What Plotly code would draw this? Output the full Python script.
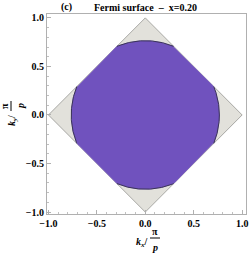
import numpy as np
import plotly.graph_objects as go

# Data
diamond_kx = [1.0, 0.0, -1.0, 0.0, 1.0]
diamond_ky = [0.0, 1.0, 0.0, -1.0, 0.0]
fermi_radius = 0.765
doping_label = "x=0.20"
panel_label = "(c)"
tick_vals = [-1.0, -0.5, 0.0, 0.5, 1.0]
tick_text = ["\u22121.0", "\u22120.5", "0.0", "0.5", "1.0"]

theta = np.linspace(0, 2 * np.pi, 721)
diam_r = 1.0 / (np.abs(np.cos(theta)) + np.abs(np.sin(theta)))
r = np.minimum(fermi_radius, diam_r)
px = r * np.cos(theta)
py = r * np.sin(theta)

arc_x, arc_y = [], []
inside = fermi_radius < diam_r
for i in range(len(theta)):
    if inside[i]:
        arc_x.append(fermi_radius * np.cos(theta[i]))
        arc_y.append(fermi_radius * np.sin(theta[i]))
    else:
        if arc_x and arc_x[-1] is not None:
            arc_x.append(None)
            arc_y.append(None)

fig = go.Figure()
fig.add_trace(go.Scatter(x=diamond_kx, y=diamond_ky, mode="lines", fill="toself",
                         fillcolor="#e2e1db", line=dict(color="#a8a8a4", width=1),
                         hoverinfo="skip"))
fig.add_trace(go.Scatter(x=px, y=py, mode="lines", fill="toself",
                         fillcolor="#7052be", line=dict(color="#7052be", width=0.5),
                         hoverinfo="skip"))
fig.add_trace(go.Scatter(x=arc_x, y=arc_y, mode="lines",
                         line=dict(color="#3a3358", width=1), hoverinfo="skip"))

tickfont = dict(family="Liberation Serif", size=10, color="black")
axis_common = dict(
    tickvals=tick_vals, ticktext=["<b>" + s + "</b>" for s in tick_text], tickfont=tickfont,
    ticks="inside", ticklen=4, tickcolor="#b0b0b0", tickwidth=1,
    minor=dict(dtick=0.1, ticks="inside", ticklen=2, tickcolor="#c0c0c0"),
    showgrid=False, zeroline=False, showline=True, linecolor="#b0b0b0",
    linewidth=1, mirror=True, automargin=False,
)
fig.update_xaxes(range=[-1.015, 1.04], **axis_common)
fig.update_yaxes(range=[-1.02, 1.04], **axis_common)

W, H = 251, 253
l, rgt, t, b = 47, 5, 14, 39
pw, ph = W - l - rgt, H - t - b


def fx(x):
    return (x - l) / pw


def fy(y):
    return (H - b - y) / ph


def ann(text, x, y, angle=0, size=10):
    return dict(text=text, xref="paper", yref="paper",
                x=fx(x), y=fy(y),
                xanchor="center", yanchor="middle", showarrow=False,
                font=dict(family="Liberation Serif", size=size, color="black"),
                textangle=angle)


fig.update_layout(
    width=W, height=H,
    margin=dict(l=l, r=rgt, t=t, b=b, autoexpand=False),
    paper_bgcolor="white", plot_bgcolor="white",
    showlegend=False,
    font=dict(family="Liberation Serif", color="black", size=10),
    annotations=[
        ann("<b>" + panel_label + "</b>", 66, 7),
        ann("<b>Fermi surface  \u2013  " + doping_label + "</b>", 145, 7),
        ann("<b><i>k<sub>x</sub></i>/</b>", 142, 242),
        ann("<b>\u03c0</b>", 155, 231),
        ann("<b><i>p</i></b>", 155, 247),
        ann("<b><i>k<sub>y</sub></i>/</b>", 13, 121, -90),
        ann("<b>\u03c0</b>", 4, 106, -90),
        ann("<b><i>p</i></b>", 20, 106, -90),
    ],
    shapes=[
        dict(type="line", xref="paper", yref="paper", x0=fx(150), x1=fx(160),
             y0=fy(238), y1=fy(238), line=dict(color="black", width=1)),
        dict(type="line", xref="paper", yref="paper", x0=fx(11), x1=fx(11),
             y0=fy(101), y1=fy(111), line=dict(color="black", width=1)),
    ],
)

fig.write_html("out.html", config={"displayModeBar": False},
               post_script="document.body.style.margin='0px';document.body.style.overflow='hidden';")
